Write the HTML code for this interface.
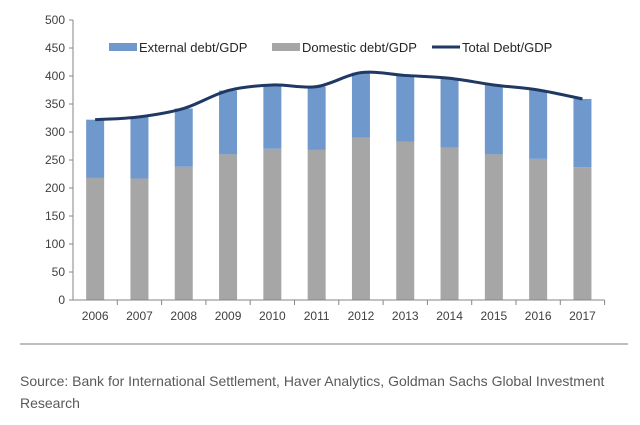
<!DOCTYPE html>
<html><head><meta charset="utf-8"><style>
body{margin:0;background:#fff;font-family:"Liberation Sans",Arial,sans-serif}
svg text{font-family:"Liberation Sans",Arial,sans-serif}
</style></head><body>
<svg id="chart" width="640" height="420">
<line x1="20" y1="344" x2="628" y2="344" stroke="#7f7f7f" stroke-width="1"/>
<text x="20" y="386" font-size="14" fill="#595959">Source: Bank for International Settlement, Haver Analytics, Goldman Sachs Global Investment</text>
<text x="20" y="408" font-size="14" fill="#595959">Research</text>
</svg>
<script>
const years=["2006","2007","2008","2009","2010","2011","2012","2013","2014","2015","2016","2017"];
const domestic=[218,217,238,260,270,268,290,283,272,260,252,237];
const total=[322,327,342,374,384,381,406,401,396,384,375,359];
const yTicks=[0,50,100,150,200,250,300,350,400,450,500];
const NS="http://www.w3.org/2000/svg";
const svg=document.getElementById('chart');
const x0=73,step=44.3,y0=300,k=0.56,bw=18;
const X=i=>x0+step*(i+0.5), Y=v=>y0-v*k;
function mk(t,a){const e=document.createElementNS(NS,t);for(const n in a)e.setAttribute(n,a[n]);svg.appendChild(e);return e;}
let ax=mk('line',{x1:x0,y1:Y(500),x2:x0,y2:y0,stroke:'#868686'});


yTicks.forEach(v=>{
 let t=mk('line',{x1:x0-4,y1:Y(v),x2:x0,y2:Y(v),stroke:'#868686'});
 
 
 let l=mk('text',{x:x0-8,y:Y(v)+4,'font-size':12,'text-anchor':'end',fill:'#404040'});l.textContent=v;
 
 
});
years.forEach((yr,i)=>{
 let g=mk('rect',{x:X(i)-bw/2,y:Y(domestic[i]),width:bw,height:domestic[i]*k,fill:'#a6a6a6'});
 
 
 let b=mk('rect',{x:X(i)-bw/2,y:Y(total[i]),width:bw,height:(total[i]-domestic[i])*k,fill:'#6f98cc'});
 
 
 let l=mk('text',{x:X(i),y:y0+20,'font-size':12,'text-anchor':'middle',fill:'#404040'});l.textContent=yr;
 
 
 let t=mk('line',{x1:x0+step*(i+1),y1:y0,x2:x0+step*(i+1),y2:y0+5,stroke:'#868686'});
 
 
});
let xa=mk('line',{x1:x0,y1:y0,x2:x0+step*12,y2:y0,stroke:'#868686'});


let pts=years.map((_,i)=>[X(i),Y(total[i])]);
let d='M'+pts[0].join(',');
for(let i=1;i<pts.length;i++){const p0=pts[Math.max(i-2,0)],p1=pts[i-1],p2=pts[i],p3=pts[Math.min(i+1,pts.length-1)];
 const c1=[p1[0]+(p2[0]-p0[0])/6,p1[1]+(p2[1]-p0[1])/6],c2=[p2[0]-(p3[0]-p1[0])/6,p2[1]-(p3[1]-p1[1])/6];
 d+=' C'+c1.join(',')+' '+c2.join(',')+' '+p2.join(',');}
let ln=mk('path',{d:d,fill:'none',stroke:'#1f3864','stroke-width':3});


const leg=[['External debt/GDP','#6f98cc','rect',109],['Domestic debt/GDP','#a6a6a6','rect',272],['Total Debt/GDP','#1f3864','line',432]];
leg.forEach(([n,c,s,x])=>{
 let m=s=='rect'?mk('rect',{x:x,y:43,width:28,height:8,fill:c}):mk('line',{x1:x,y1:47,x2:x+28,y2:47,stroke:c,'stroke-width':3});
 
 
 let t=mk('text',{x:x+30,y:52,'font-size':13,fill:'#262626'});t.textContent=n;
 
 
});
</script>
</body></html>
